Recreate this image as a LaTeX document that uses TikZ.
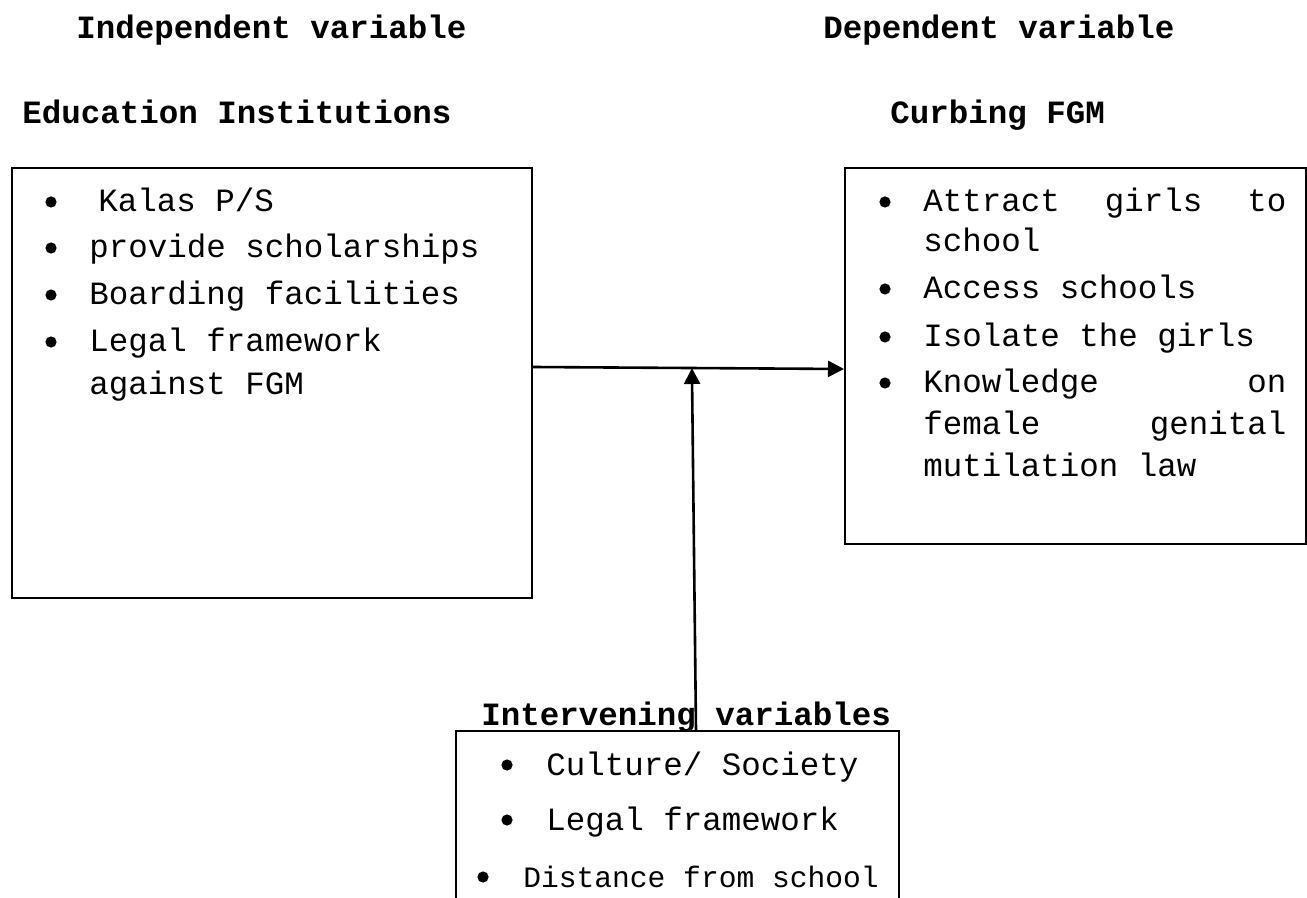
\documentclass[tikz,border=0pt]{standalone}
\usepackage{fontspec}
\setmonofont{Liberation Mono}
\usetikzlibrary{arrows.meta,calc}
\begin{document}
\begin{tikzpicture}[x=0.5pt,y=-0.5pt,
  txt/.style={anchor=base west,inner sep=0pt,font=\ttfamily\fontsize{16.25pt}{20pt}\selectfont},
  smalltxt/.style={anchor=base west,inner sep=0pt,font=\ttfamily\fontsize{14.8pt}{18pt}\selectfont},
  hd/.style={anchor=base west,inner sep=0pt,font=\ttfamily\bfseries\fontsize{16.25pt}{20pt}\selectfont},
  box/.style={draw,line width=1pt,anchor=north west,inner sep=0pt},
  arr/.style={line width=1.3pt,-{Triangle[length=8pt,width=8pt]}},
  dot/.style={circle,fill,draw=none,inner sep=0pt,minimum size=5.6pt}]
\useasboundingbox (0,0) rectangle (1307,898);
\clip (0,0) rectangle (1307,898);

% headings
\node[hd] (h1) at (76,39) {Independent variable};
\node[hd] (h2) at (823,39) {Dependent variable};
\node[hd] (h3) at (22,124) {Education Institutions};
\node[hd] (h4) at (890,124) {Curbing FGM};
\node[hd] (h5) at (481,725) {Intervening variables};

% boxes
\node[box,minimum width=260pt,minimum height=215pt] (L) at (11,167) {};
\node[box,minimum width=230.5pt,minimum height=188pt] (R) at (844,167) {};
\node[box,minimum width=221.5pt,minimum height=100pt] (I) at (455,730) {};

% left box items
\node[dot] (lb1) at (51,202) {};
\node[dot] (lb2) at (51,248) {};
\node[dot] (lb3) at (51,295) {};
\node[dot] (lb4) at (51,342) {};
\node[txt] (l1) at (98,212) {Kalas P/S};
\node[txt] (l2) at (89,258) {provide scholarships};
\node[txt] (l3) at (89,305) {Boarding facilities};
\node[txt] (l4) at (89,352) {Legal framework};
\node[txt] (l5) at (89,395) {against FGM};

% right box items
\node[dot] (rb1) at (885,202) {};
\node[dot] (rb2) at (885,289) {};
\node[dot] (rb3) at (885,337) {};
\node[dot] (rb4) at (885,383) {};
\node[txt] (r1) at (923,212) {\makebox[181.5pt][l]{Attract\hfill girls\hfill to}};
\node[txt] (r2) at (923,252) {school};
\node[txt] (r3) at (923,299) {Access schools};
\node[txt] (r4) at (923,347) {Isolate the girls};
\node[txt] (r5) at (923,393) {\makebox[181.5pt][l]{Knowledge\hfill on}};
\node[txt] (r6) at (923,435) {\makebox[181.5pt][l]{female\hfill genital}};
\node[txt] (r7) at (923,477) {mutilation law};

% intervening items
\node[dot] (ib1) at (507,765) {};
\node[dot] (ib2) at (507,820) {};
\node[dot] (ib3) at (483,877) {};
\node[txt] (i1) at (546,775) {Culture/ Society};
\node[txt] (i2) at (546,830) {Legal framework};
\node[smalltxt] (i3) at (523,887) {Distance from school};

% connectors
\path (L.north east) ++(0,200) coordinate (hs);
\path (R.north west) ++(0,202) coordinate (he);
\draw[arr] (hs) -- (he);
\coordinate (vt) at ($(hs)!0.511!(he)$);
\path (I.north west) ++(241,0) coordinate (vs);
\draw[arr] (vs) -- (vt);
\end{tikzpicture}
\end{document}
